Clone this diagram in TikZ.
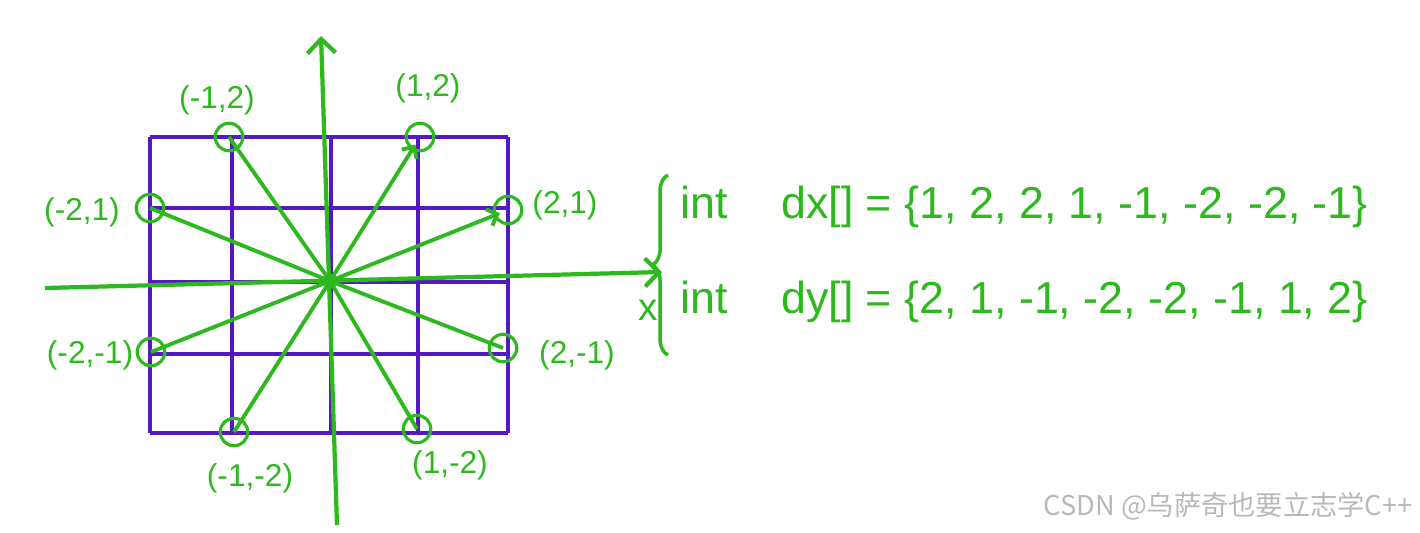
\documentclass[tikz,border=0pt]{standalone}
\usepackage{fontspec}
\setmainfont{Liberation Sans}
\newfontfamily\cjkfont{Noto Sans CJK SC}
\usetikzlibrary{arrows.meta,decorations.pathreplacing}
\definecolor{penGreen}{RGB}{45,185,30}
\definecolor{penPurple}{RGB}{85,25,195}

\begin{document}
\begin{tikzpicture}[
      x=0.02cm, y=-0.02cm,
      gridline/.style={draw=penPurple, line width=2.2pt},
      axisline/.style={draw=penGreen, line width=2.4pt, -{Straight Barb[length=8pt,width=16pt]}},
      move/.style={draw=penGreen, line width=2.2pt},
      target/.style={draw=penGreen, circle, line width=1.8pt, minimum size=0.55cm, inner sep=0pt},
      origin/.style={fill=penGreen, circle, minimum size=0.3cm, inner sep=0pt},
      poslabel/.style={text=penGreen, font=\fontsize{18}{20}\selectfont},
      codeline/.style={text=penGreen, anchor=west, font=\fontsize{25.5}{28}\selectfont},
      watermark/.style={text=black!28, font=\cjkfont\fontsize{15.5}{17}\selectfont}
    ]
    \useasboundingbox (0,0) rectangle (1420,532);
    % purple grid
    \foreach \gx in {150,232,331,418,508}
      \draw[gridline] (\gx,137) -- (\gx,433);
    \foreach \gy in {137,208,282,354,433}
      \draw[gridline] (150,\gy) -- (508,\gy);

    % axes
    \draw[axisline] (45,288) -- (662,272);
    \draw[axisline] (337,525) -- (321,36);
    \node[poslabel, font=\fontsize{22}{24}\selectfont] (xname) at (648,310) {x};

    % knight moves
    \node[origin] (o) at (330,281) {};
    \node[target] (p12) at (420,137) {};
    \node[target] (p21) at (508,210) {};
    \node[target] (p2m1) at (503,348) {};
    \node[target] (p1m2) at (417,429) {};
    \node[target] (pm1m2) at (234,432) {};
    \node[target] (pm2m1) at (151,352) {};
    \node[target] (pm21) at (150,208) {};
    \node[target] (pm12) at (229,137) {};

    \draw[move, -{Straight Barb[length=5pt,width=10pt]}, shorten >=5pt] (o.center) -- (p12.center);
    \draw[move, -{Straight Barb[length=5pt,width=10pt]}, shorten >=5pt] (o.center) -- (p21.center);
    \foreach \p in {p2m1,p1m2,pm1m2,pm2m1,pm21,pm12}
      \draw[move] (o.center) -- (\p.center);

    \node[poslabel] (l12) at (428,88) {(1,2)};
    \node[poslabel] (l21) at (565,205) {(2,1)};
    \node[poslabel] (l2m1) at (577,355) {(2,-1)};
    \node[poslabel] (l1m2) at (450,465) {(1,-2)};
    \node[poslabel] (lm1m2) at (250,478) {(-1,-2)};
    \node[poslabel] (lm2m1) at (90,355) {(-2,-1)};
    \node[poslabel] (lm21) at (82,212) {(-2,1)};
    \node[poslabel] (lm12) at (217,100) {(-1,2)};

    % offset arrays
    \draw[draw=penGreen, line width=2pt, decorate, decoration={brace, amplitude=9pt}] (668,355) -- (668,175);
    \node[codeline] (dx) at (674,207) {int\hspace{1.2em}dx[] = \{1, 2, 2, 1, -1, -2, -2, -1\}};
    \node[codeline] (dy) at (674,302) {int\hspace{1.2em}dy[] = \{2, 1, -1, -2, -2, -1, 1, 2\}};

    \node[watermark] (mark) at (1228,506) {CSDN @乌萨奇也要立志学C++};
  \end{tikzpicture}
\end{document}
